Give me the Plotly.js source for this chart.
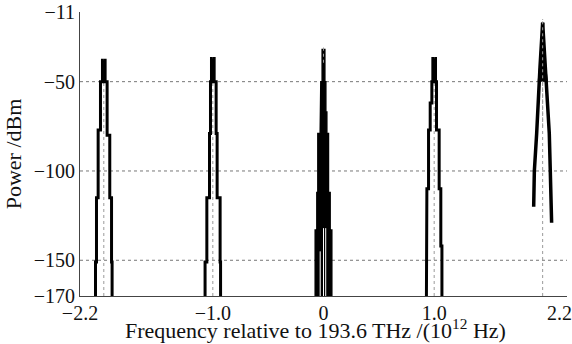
<!DOCTYPE html>
<html>
<head>
<meta charset="utf-8">
<script src="https://cdn.plot.ly/plotly-3.0.1.min.js"></script>
<style>html,body{margin:0;padding:0;background:#fff;}#chart{width:572px;height:344px;}</style>
</head>
<body>
<div id="chart"></div>
<script>
// ---- data ----
const floorLevel = -170;
const peakCenters = [-1.985, -1.0, 0.0, 1.0, 1.98];          // THz rel. to 193.6 THz
const markerTops  = [-36, -36, -31, -36, -15];                 // top of grey dotted centre markers (dBm)

// envelope of each comb (offset from centre in THz, power in dBm)
const p1LeftOff  = [-0.075, -0.066, -0.051, -0.030, -0.012, 0];
const p1LeftLvl  = [-170, -151, -115, -77, -50, -38];
const p1RightOff = [0, 0.012, 0.030, 0.054, 0.070, 0.075];
const p1RightLvl = [-38, -50, -80, -115, -151, -170];

const p2LeftOff  = [-0.070, -0.054, -0.030, -0.021, -0.012, 0];
const p2LeftLvl  = [-170, -151, -115, -79, -50, -37];
const p2RightOff = [0, 0.012, 0.030, 0.039, 0.066, 0.070];
const p2RightLvl = [-37, -50, -79, -115, -151, -170];

const p3LeftOff  = [-0.075, -0.060, -0.051, -0.030, -0.024, -0.012, 0];
const p3LeftLvl  = [-170, -133, -112, -79, -67, -50, -32];
const p3RightOff = [0, 0.012, 0.021, 0.030, 0.045, 0.060, 0.075];
const p3RightLvl = [-32, -50, -67, -79, -112, -133, -170];
const p3GapOff   = [-0.030, 0.0, 0.020];
const p3GapTop   = [-145, -132, -132];

const p4LeftOff  = [-0.070, -0.066, -0.051, -0.036, -0.021, -0.012, 0];
const p4LeftLvl  = [-170, -142, -110, -77, -62, -50, -37];
const p4RightOff = [0, 0.012, 0.021, 0.045, 0.060, 0.070];
const p4RightLvl = [-37, -50, -77, -110, -142, -170];

const p5LeftOff  = [-0.081, -0.075, -0.054, -0.036, -0.024, 0];
const p5LeftLvl  = [-120, -100, -79, -50, -42, -17];
const p5RightOff = [0, 0.024, 0.039, 0.060, 0.069, 0.081];
const p5RightLvl = [-17, -42, -50, -79, -100, -129];
const p5CapLevel = -52;   // top part of the right-most comb is solid down to this level

const gridLevels = [-50, -100, -150];
const xTickVals  = [-2.2, -1.0, 0, 1.0, 2.2];
const xTickText  = ['\u22122.2', '\u22121.0', '0', '1.0', '2.2\u00a0\u00a0\u00a0'];
const yTickVals  = [-170, -150, -100, -50, -11];
const yTickText  = ['\u2212170', '\u2212150', '\u2212100', '\u221250', '\u221211'];
const xTitle = 'Frequency relative to 193.6 THz /(10<sup>12</sup> Hz)';
const yTitle = 'Power /dBm';

// ---- helpers ----
const serif = '"Liberation Serif", "Times New Roman", serif';
const traces = [];

function stairLeft(c, off, lvl) {
  const x = [c + off[0]], y = [lvl[0]];
  for (let i = 1; i < off.length; i++) {
    x.push(c + off[i - 1]); y.push(lvl[i]);
    x.push(c + off[i]);     y.push(lvl[i]);
  }
  return {x, y};
}
function stairRight(c, off, lvl) {
  const x = [c + off[0]], y = [lvl[0]];
  for (let i = 1; i < off.length; i++) {
    x.push(c + off[i]); y.push(lvl[i - 1]);
    x.push(c + off[i]); y.push(lvl[i]);
  }
  return {x, y};
}
function lineTrace(pts, w, color) {
  return {x: pts.x, y: pts.y, mode: 'lines', line: {color: color || '#000', width: w},
    hoverinfo: 'skip', showlegend: false};
}

// grey dotted centre markers (under the combs)
peakCenters.forEach((c, i) => {
  traces.push({x: [c, c], y: [floorLevel, markerTops[i]], mode: 'lines',
    line: {color: '#9a9a9a', width: 1, dash: 'dot'}, hoverinfo: 'skip', showlegend: false});
});

// side combs drawn as thick staircase strokes
[[0, p1LeftOff, p1LeftLvl, p1RightOff, p1RightLvl],
 [1, p2LeftOff, p2LeftLvl, p2RightOff, p2RightLvl],
 [3, p4LeftOff, p4LeftLvl, p4RightOff, p4RightLvl]].forEach(([k, lo, ll, ro, rl]) => {
  traces.push(lineTrace(stairLeft(peakCenters[k], lo, ll), 3));
  traces.push(lineTrace(stairRight(peakCenters[k], ro, rl), 3));
});

// central comb: solid filled staircase
{
  const L = stairLeft(peakCenters[2], p3LeftOff, p3LeftLvl);
  const R = stairRight(peakCenters[2], p3RightOff, p3RightLvl);
  traces.push({x: L.x.concat(R.x.slice(1)), y: L.y.concat(R.y.slice(1)), mode: 'lines',
    line: {color: '#000', width: 1.5}, fill: 'toself', fillcolor: '#000',
    hoverinfo: 'skip', showlegend: false});
  p3GapOff.forEach((o, i) => {
    traces.push({x: [peakCenters[2] + o, peakCenters[2] + o], y: [floorLevel, p3GapTop[i]], mode: 'lines',
      line: {color: '#fff', width: 1}, hoverinfo: 'skip', showlegend: false});
  });
  traces.push({x: [peakCenters[2], peakCenters[2]], y: [markerTops[2], -40], mode: 'lines',
    line: {color: '#9a9a9a', width: 1, dash: 'dot'}, hoverinfo: 'skip', showlegend: false});
}

// right-most comb: thick slanted strokes with a solid top
{
  const c = peakCenters[4];
  const capL = p5LeftOff.map((o, i) => [o, p5LeftLvl[i]]).filter(p => p[1] >= p5CapLevel);
  const capR = p5RightOff.map((o, i) => [o, p5RightLvl[i]]).filter(p => p[1] >= p5CapLevel);
  const cap = capL.concat(capR.slice(1));
  traces.push({x: cap.map(p => p[0] + c), y: cap.map(p => p[1]), mode: 'lines',
    line: {color: '#000', width: 2}, fill: 'toself', fillcolor: '#000', hoverinfo: 'skip', showlegend: false});
  traces.push({x: p5LeftOff.map(v => v + c), y: p5LeftLvl, mode: 'lines',
    line: {color: '#000', width: 3.5}, hoverinfo: 'skip', showlegend: false});
  traces.push({x: p5RightOff.map(v => v + c), y: p5RightLvl, mode: 'lines',
    line: {color: '#000', width: 3.5}, hoverinfo: 'skip', showlegend: false});
  traces.push({x: [c, c], y: [-75, markerTops[4]], mode: 'lines',
    line: {color: '#9a9a9a', width: 1, dash: 'dot'}, hoverinfo: 'skip', showlegend: false});
}

const shapes = gridLevels.map(g => ({type: 'line', xref: 'paper', x0: 0, x1: 1, yref: 'y', y0: g, y1: g,
  line: {color: '#777', width: 1, dash: 'dot'}, layer: 'below'}));

const layout = {
  width: 572, height: 344,
  margin: {l: 80, r: 5, t: 12, b: 48},
  paper_bgcolor: '#fff', plot_bgcolor: '#fff',
  font: {family: serif, size: 20, color: '#111'},
  showlegend: false,
  shapes: shapes,
  annotations: [{
    text: xTitle, xref: 'paper', yref: 'paper', x: 0.5, y: -48 / 284,
    xanchor: 'center', yanchor: 'bottom', xshift: -8, yshift: -1, showarrow: false,
    font: {family: serif, size: 22, color: '#111'}
  }],
  xaxis: {
    range: [-2.2, 2.2], tickvals: xTickVals, ticktext: xTickText,
    showgrid: false, zeroline: false, showline: true, linecolor: '#444', linewidth: 1,
    ticks: '', ticklen: 0, tickfont: {family: serif, size: 20}, ticklabeloverflow: 'allow',
    ticklabelstandoff: -1
  },
  yaxis: {
    range: [-170, -11], tickvals: yTickVals, ticktext: yTickText,
    showgrid: false, zeroline: false, showline: true, linecolor: '#444', linewidth: 1,
    ticks: '', ticklen: 0, tickfont: {family: serif, size: 20}, ticklabeloverflow: 'allow',
    title: {text: yTitle, font: {family: serif, size: 22}, standoff: 6}
  }
};

Plotly.newPlot('chart', traces, layout, {displayModeBar: false, staticPlot: true});
</script>
</body>
</html>
